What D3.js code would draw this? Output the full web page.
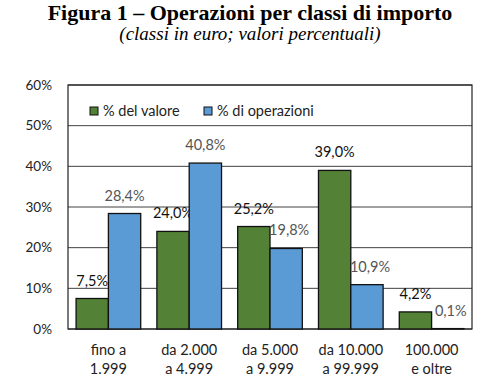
<!DOCTYPE html>
<html>
<head>
<meta charset="utf-8">
<script src="https://cdn.jsdelivr.net/npm/d3@7"></script>
<style>
  body { margin: 0; background: #fff; }
  text { font-family: Lato, "Open Sans", sans-serif; }
</style>
</head>
<body>
<div id="chart"></div>
<script>
// categories and series (percent)
const categories = [["fino a", "1.999"], ["da 2.000", "a 4.999"], ["da 5.000", "a 9.999"], ["da 10.000", "a 99.999"], ["100.000", "e oltre"]];
const valore = [7.5, 24.0, 25.2, 39.0, 4.2];
const operazioni = [28.4, 40.8, 19.8, 10.9, 0.1];
const seriesNames = ["% del valore", "% di operazioni"];
const yTicks = [0, 10, 20, 30, 40, 50, 60];

const width = 500, height = 389;
const margin = { top: 85, right: 28, bottom: 60, left: 68 };

const svg = d3.select("#chart").append("svg")
    .attr("width", width)
    .attr("height", height);

// titles
svg.append("text")
    .attr("x", 250).attr("y", 20)
    .attr("text-anchor", "middle")
    .style("font-family", "'Liberation Serif', 'DejaVu Serif', serif")
    .style("font-weight", "bold")
    .style("font-size", "22px")
    .text("Figura 1 – Operazioni per classi di importo");

svg.append("text")
    .attr("x", 250).attr("y", 40)
    .attr("text-anchor", "middle")
    .style("font-family", "'Liberation Serif', 'DejaVu Serif', serif")
    .style("font-style", "italic")
    .style("font-size", "19px")
    .text("(classi in euro; valori percentuali)");

const x0 = d3.scaleBand()
    .domain(d3.range(categories.length))
    .range([margin.left, width - margin.right])
    .paddingInner(0.2)
    .paddingOuter(0.1);

const x1 = d3.scaleBand()
    .domain([0, 1])
    .range([0, x0.bandwidth()]);

const y = d3.scaleLinear()
    .domain([0, 60])
    .range([height - margin.bottom, margin.top]);

// gridlines
svg.append("g")
    .selectAll("line")
    .data(yTicks)
    .join("line")
    .attr("x1", margin.left)
    .attr("x2", width - margin.right)
    .attr("y1", d => y(d))
    .attr("y2", d => y(d))
    .attr("stroke", "#404040")
    .attr("stroke-width", 1);

// plot border
svg.append("rect")
    .attr("x", margin.left)
    .attr("y", y(60))
    .attr("width", width - margin.right - margin.left)
    .attr("height", y(0) - y(60))
    .attr("fill", "none")
    .attr("stroke", "#222")
    .attr("stroke-width", 1.2);

// y axis labels
svg.append("g")
    .selectAll("text")
    .data(yTicks)
    .join("text")
    .attr("x", 52)
    .attr("y", d => y(d))
    .attr("dy", "0.35em")
    .attr("text-anchor", "end")
    .style("font-size", "13.5px")
    .attr("fill", "#222")
    .text(d => d + "%");

const colors = ["#538135", "#5B9BD5"];
const series = [valore, operazioni];
const fmt = v => v.toFixed(1).replace(".", ",") + "%";

series.forEach((vals, s) => {
    const g = svg.append("g");
    g.selectAll("rect")
        .data(vals)
        .join("rect")
        .attr("x", (d, i) => x0(i) + x1(s))
        .attr("y", d => y(d))
        .attr("width", x1.bandwidth())
        .attr("height", d => y(0) - y(d))
        .attr("fill", colors[s])
        .attr("stroke", "#111")
        .attr("stroke-width", 1.3);

    g.selectAll("text")
        .data(vals)
        .join("text")
        .attr("x", (d, i) => x0(i) + x1(s) + x1.bandwidth() / 2 + (s === 1 && i >= 2 ? 3 : 0))
        .attr("y", d => y(d) - 13)
        .attr("text-anchor", "middle")
        .style("font-size", "14.5px")
        .attr("fill", s === 0 ? "#111" : "#555")
        .text(d => fmt(d));
});

// category labels
const cat = svg.append("g")
    .selectAll("text")
    .data(categories)
    .join("text")
    .attr("text-anchor", "middle")
    .attr("x", (d, i) => x0(i) + x0.bandwidth() / 2)
    .attr("y", 355)
    .style("font-size", "14.5px")
    .attr("fill", "#222");

cat.selectAll("tspan")
    .data(d => d)
    .join("tspan")
    .attr("x", function() { return this.parentNode.getAttribute("x"); })
    .attr("dy", (d, i) => i === 0 ? 0 : 19)
    .text(d => d);

// legend
const legend = svg.append("g");
const legendX = [90, 204];
seriesNames.forEach((name, i) => {
    legend.append("rect")
        .attr("x", legendX[i])
        .attr("y", 107)
        .attr("width", 8)
        .attr("height", 8)
        .attr("fill", colors[i])
        .attr("stroke", "#111")
        .attr("stroke-width", 1);
    legend.append("text")
        .attr("x", legendX[i] + 13)
        .attr("y", 111)
        .attr("dy", "0.35em")
        .style("font-size", "14.5px")
        .attr("fill", "#222")
        .text(name);
});
</script>
</body>
</html>
